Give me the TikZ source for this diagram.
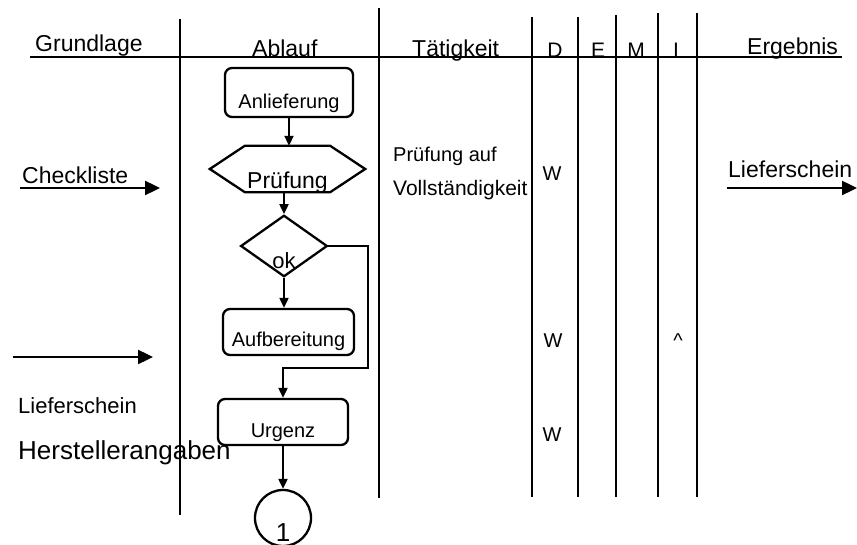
\documentclass[tikz,border=0pt]{standalone}
\usepackage{fontspec}
\setmainfont{Liberation Sans}
\usetikzlibrary{arrows.meta,positioning,shapes.geometric}
\newcommand{\fsz}[1]{\fontsize{#1}{#1}\selectfont}
\tikzstyle{rule}=[line width=2.7pt]
\tikzstyle{boxline}=[line width=2.3pt]
\tikzstyle{proc}=[draw,boxline,rounded corners=7pt,inner sep=0pt,text depth=0pt,font=\fsz{20}]
\tikzstyle{flow}=[line width=2pt,-{Triangle[length=10pt,width=9pt]}]
\tikzstyle{feed}=[line width=2.4pt,-{Triangle[length=15pt,width=14pt]}]
\tikzstyle{lbl}=[anchor=base west,inner sep=0pt]
\tikzstyle{rolemark}=[anchor=base,inner sep=0pt,font=\fsz{20}]

\begin{document}
\begin{tikzpicture}[x=1pt,y=-1pt]
  \useasboundingbox (0,0) rectangle (857,545);

  % table rules
  \draw[rule] (30,57) -- (842,57);
  \draw[rule] (180,19) -- (180,515);
  \draw[rule] (379,8) -- (379,498);
  \draw[rule] (532,17) -- (532,497);
  \draw[rule] (578,17) -- (578,497);
  \draw[rule] (616,15) -- (616,497);
  \draw[rule] (658,13) -- (658,497);
  \draw[rule] (697,13) -- (697,497);

  % column heads
  \node[lbl,font=\fsz{23}] (hgrund) at (35,52) {Grundlage};
  \node[lbl,font=\fsz{23}] (hablauf) at (252,56.5) {Ablauf};
  \node[lbl,font=\fsz{23}] (htaet) at (412,56.5) {Tätigkeit};
  \node[rolemark,font=\fsz{21}] (hD) at (555,58) {D};
  \node[rolemark,font=\fsz{21}] (hE) at (598,58) {E};
  \node[rolemark,font=\fsz{21}] (hM) at (636,58) {M};
  \node[rolemark,font=\fsz{21}] (hI) at (676,58) {I};
  \node[lbl,font=\fsz{23}] (hergeb) at (747,54.5) {Ergebnis};

  % flow
  \node[proc,minimum width=128pt,minimum height=49pt,text height=33pt] (anl) at (289,92.5) {Anlieferung};
  \node[minimum width=155pt,minimum height=46pt,inner sep=3pt,text height=40pt,text depth=0pt,font=\fsz{23}] (pruef) at (287.5,169) {Prüfung};
  \draw[boxline] (pruef.west) -- ([xshift=35pt]pruef.north west) -- ([xshift=-35pt]pruef.north east)
    -- (pruef.east) -- ([xshift=-35pt]pruef.south east) -- ([xshift=35pt]pruef.south west) -- cycle;
  \node[draw,boxline,diamond,aspect=1.41,minimum width=86pt,minimum height=61pt,inner sep=0pt,
    text height=45pt,text depth=0pt,font=\fsz{22}] (ok) at (284,246) {ok};
  \node[proc,minimum width=131pt,minimum height=46pt,text height=30pt] (auf) at (288.5,332) {Aufbereitung};
  \node[proc,minimum width=130pt,minimum height=46pt,text height=31pt] (urg) at (283,422) {Urgenz};
  \node[draw,boxline,circle,minimum size=56pt,inner sep=0pt,text height=46pt,text depth=0pt,font=\fsz{26}] (one) at (283,518) {1};
  \coordinate (loop) at (368,368);

  \draw[flow] (anl.south) -- (anl.south |- pruef.north);
  \draw[flow] (pruef.south -| ok.north) -- (ok.north);
  \draw[flow] (ok.south) -- (ok.south |- auf.north);
  \draw[flow] (ok.east) -| (loop) -| (urg.north);
  \draw[flow] (urg.south) -- (one.north);

  % inputs
  \node[lbl,font=\fsz{23}] (check) at (22,184) {Checkliste};
  \coordinate (checkA) at (20,188);
  \coordinate (checkB) at (160,188);
  \draw[feed] (checkA) -- (checkB);
  \coordinate (inA) at (13,357);
  \coordinate (inB) at (153,357);
  \draw[feed] (inA) -- (inB);
  \node[lbl,font=\fsz{22}] (liefL) at (18,413) {Lieferschein};
  \node[lbl,font=\fsz{26}] (herst) at (18,459) {Herstellerangaben};

  % activity and roles
  \node[lbl,font=\fsz{20}] (taet1) at (393,162) {Prüfung auf};
  \node[lbl,font=\fsz{21}] (taet2) at (393,196) {Vollständigkeit};
  \node[rolemark] (w1) at (552,181) {W};
  \node[rolemark] (w2) at (553,348) {W};
  \node[rolemark] (w3) at (552,441) {W};
  \node[rolemark] (caret) at (678,348) {\^{}};

  % result
  \node[lbl,font=\fsz{23}] (liefR) at (728,178) {Lieferschein};
  \coordinate (outA) at (727,188);
  \coordinate (outB) at (857,188);
  \draw[feed] (outA) -- (outB);
\end{tikzpicture}
\end{document}
